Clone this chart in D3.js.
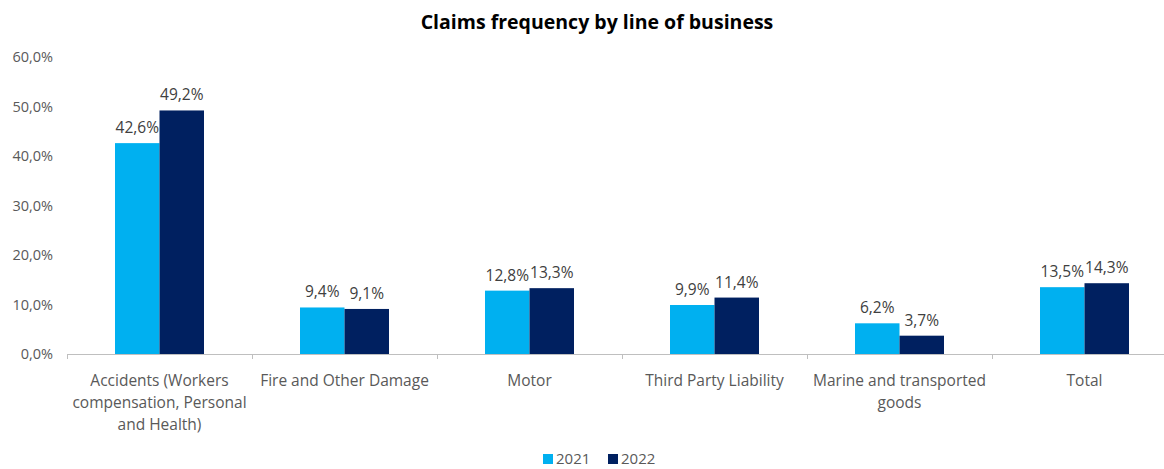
<!DOCTYPE html>
<html>
<head>
<meta charset="utf-8">
<script src="https://cdn.jsdelivr.net/npm/d3@7"></script>
<style>
  html, body { margin: 0; padding: 0; background: #fff; }
  svg { display: block; font-family: "Open Sans", "Noto Sans", sans-serif; }
</style>
</head>
<body>
<svg id="chart" width="1164" height="469"></svg>
<script>
// Claims frequency (%) by line of business
const categories = [
  ["Accidents (Workers", "compensation, Personal", "and Health)"],
  ["Fire and Other Damage"],
  ["Motor"],
  ["Third Party Liability"],
  ["Marine and transported", "goods"],
  ["Total"]
];
const seriesNames = ["2021", "2022"];
const values2021 = [42.6, 9.4, 12.8, 9.9, 6.2, 13.5];
const values2022 = [49.2, 9.1, 13.3, 11.4, 3.7, 14.3];
const yTicks = [0, 10, 20, 30, 40, 50, 60];
const colors = ["#00B0F0", "#002060"];

const svg = d3.select("#chart");
const fmt = v => d3.format(".1f")(v).replace(".", ",") + "%";

const plotLeft = 67, plotRight = 1177, plotTop = 57, plotBottom = 354;
const idx = categories.map((_, i) => i);

const x = d3.scaleBand().domain(idx).range([plotLeft, plotRight]).paddingInner(0).paddingOuter(0);
const y = d3.scaleLinear().domain([0, 60]).range([plotBottom, plotTop]);
const inner = d3.scaleBand().domain(seriesNames).range([0, 89]);
const innerOffset = (x.bandwidth() - 89) / 2;

// Title
svg.append("text")
  .attr("x", 597).attr("y", 29)
  .attr("text-anchor", "middle")
  .attr("font-size", 19.5).attr("font-weight", "bold").attr("fill", "#000")
  .text("Claims frequency by line of business");

// Y axis (labels only)
const yAxis = svg.append("g")
  .attr("transform", `translate(${plotLeft},0)`)
  .call(d3.axisLeft(y).tickValues(yTicks).tickFormat(fmt).tickSize(0).tickPadding(14));
yAxis.select(".domain").remove();
yAxis.selectAll("text").attr("font-size", 14.5).attr("fill", "#595959")
  .attr("font-family", "'Open Sans', sans-serif");

// Bars
const data = [values2021, values2022];
const groups = svg.append("g");
seriesNames.forEach((s, si) => {
  groups.selectAll(".bar" + si)
    .data(data[si])
    .join("rect")
    .attr("class", "bar" + si)
    .attr("x", (d, i) => x(i) + innerOffset + inner(s))
    .attr("y", d => y(d))
    .attr("width", inner.bandwidth())
    .attr("height", d => y(0) - y(d))
    .attr("fill", colors[si]);
  groups.selectAll(".lab" + si)
    .data(data[si])
    .join("text")
    .attr("class", "lab" + si)
    .attr("x", (d, i) => x(i) + innerOffset + inner(s) + inner.bandwidth() / 2)
    .attr("y", d => y(d) - 10)
    .attr("text-anchor", "middle")
    .attr("font-size", 15.5).attr("fill", "#404040")
    .text(fmt);
});

// X axis line with band-boundary ticks
const axisG = svg.append("g");
axisG.append("line")
  .attr("x1", plotLeft).attr("x2", plotRight)
  .attr("y1", plotBottom + 0.5).attr("y2", plotBottom + 0.5)
  .attr("stroke", "#bfbfbf").attr("stroke-width", 1);
idx.concat([categories.length]).forEach(i => {
  const xx = Math.round(i < categories.length ? x(i) : plotRight) + 0.5;
  axisG.append("line")
    .attr("x1", xx).attr("x2", xx)
    .attr("y1", plotBottom).attr("y2", plotBottom + 5)
    .attr("stroke", "#bfbfbf");
});

// Category labels
categories.forEach((lines, i) => {
  const t = svg.append("text")
    .attr("x", x(i) + x.bandwidth() / 2)
    .attr("y", 386)
    .attr("text-anchor", "middle")
    .attr("font-size", 15.5).attr("fill", "#595959");
  lines.forEach((ln, li) => {
    t.append("tspan").attr("x", x(i) + x.bandwidth() / 2)
      .attr("dy", li === 0 ? 0 : 22).text(ln);
  });
});

// Legend
const legend = svg.append("g").attr("transform", "translate(543,459)");
seriesNames.forEach((s, si) => {
  const g = legend.append("g").attr("transform", `translate(${si * 65},0)`);
  g.append("rect").attr("x", 0).attr("y", -5).attr("width", 10).attr("height", 10)
    .attr("fill", colors[si]);
  g.append("text").attr("x", 13).attr("y", 5)
    .attr("font-size", 15).attr("fill", "#595959").text(s);
});
</script>
</body>
</html>
